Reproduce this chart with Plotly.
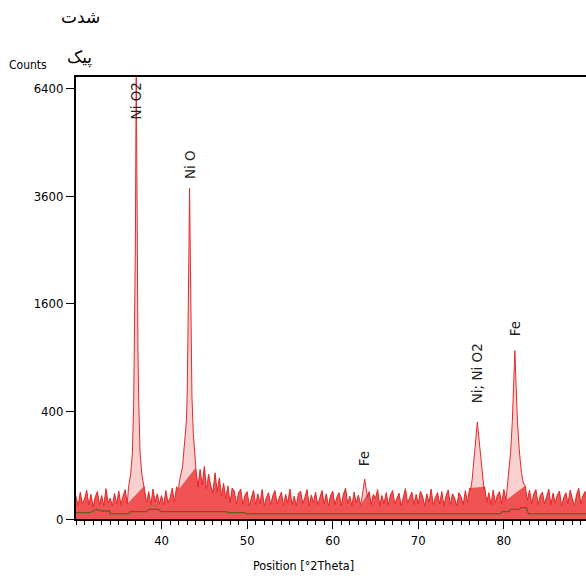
import numpy as np
import plotly.graph_objects as go

# ---- data (counts) ----
noise_start = 30.0
noise_step = 0.25
noise_counts = [
    18, 6, 25, 8, 14, 29, 7, 21, 5, 17, 26, 7, 19, 6, 32, 9, 15, 6, 23, 8,             # 30-35
    27, 7, 18, 30, 8, 20, 30, 40, 50, 40, 30, 20, 38, 9, 26, 7, 31, 10, 22, 8,           # 35-40
    19, 7, 28, 9, 16, 33, 10, 36, 30, 60, 200, 900, 3000, 900, 300, 180, 92, 35, 85, 40, # 40-45
    96, 30, 70, 38, 24, 74, 26, 58, 18, 44, 14, 38, 9, 33, 27, 8, 24, 31, 7, 20,         # 45-50
    26, 6, 17, 29, 7, 22, 8, 30, 6, 16, 24, 7, 19, 28, 8, 14, 25, 6, 21, 9,              # 50-55
    31, 7, 18, 6, 23, 27, 8, 16, 30, 6, 20, 9, 25, 7, 15, 28, 8, 22, 6, 19,              # 55-60
    27, 7, 17, 24, 6, 21, 33, 8, 18, 6, 25, 9, 20, 7, 30, 50, 30, 26, 7, 21,             # 60-65
    15, 30, 6, 19, 8, 24, 7, 20, 28, 8, 16, 23, 6, 19, 32, 9, 17, 25, 7, 21,             # 65-70
    8, 27, 18, 6, 22, 9, 31, 7, 16, 24, 8, 26, 6, 19, 29, 7, 22, 15, 6, 24,              # 70-75
    17, 7, 28, 9, 33, 60, 150, 300, 250, 100, 45, 36, 10, 24, 7, 29, 9, 20, 26, 8,       # 75-80
    30, 12, 60, 180, 500, 900, 500, 200, 90, 55, 38, 12, 29, 8, 22, 30, 7, 19, 25, 8,    # 80-85
    18, 31, 7, 23, 9, 20, 27, 6, 16, 24, 8, 29, 15, 6, 21, 33, 8, 19, 26, 10,            # 85-90
]

peak_NiO2_x = [36.14, 36.39, 36.59, 36.74, 36.84, 36.94, 37.04, 37.14, 37.24, 37.34, 37.49, 37.69, 37.94]
peak_NiO2_c = [35, 70, 150, 450, 1000, 2600, 7200, 2600, 1000, 450, 150, 70, 35]

peak_NiO_x = [42.05, 42.45, 42.7, 42.9, 43.0, 43.1, 43.19, 43.27, 43.35, 43.44, 43.55, 43.7, 43.87]
peak_NiO_c = [45, 95, 200, 330, 560, 1150, 2400, 3780, 2400, 1150, 520, 260, 150]

peak_Fe1_x = [63.4, 63.55, 63.65, 63.74, 63.83, 63.93, 64.08]
peak_Fe1_c = [14, 26, 40, 55, 40, 26, 16]

peak_Ni_x = [76.12, 76.3, 76.5, 76.67, 76.78, 76.9, 77.02, 77.13, 77.3, 77.5, 77.68]
peak_Ni_c = [30, 55, 125, 200, 260, 325, 260, 200, 130, 60, 30]

peak_Fe2_x = [80.47, 80.65, 80.8, 80.99, 81.09, 81.19, 81.29, 81.39, 81.49, 81.59, 81.8, 82.05, 82.28]
peak_Fe2_c = [52, 90, 160, 330, 480, 700, 980, 700, 480, 330, 165, 75, 45]

bg_x = [30, 31.6, 32.0, 32.4, 33.0, 33.9, 34.0, 36.2, 36.3, 38.2, 38.5, 39.6, 40.0, 47.6, 47.8,
        49.7, 49.9, 79.6, 79.8, 80.6, 80.8, 81.8, 82.0, 82.6, 82.9, 89.6]
bg_c = [1.4, 1.4, 2.2, 3.2, 2.2, 2.2, 0.9, 0.9, 1.85, 1.85, 3.2, 3.2, 1.85, 1.85, 1.4,
        1.4, 0.9, 0.9, 1.85, 1.85, 3.2, 3.2, 4.5, 4.5, 0.9, 0.9]

peak_labels = ["Ni O2", "Ni O", "Fe", "Ni; Ni O2", "Fe"]
peak_label_x = [37.04, 43.27, 63.74, 76.9, 81.29]
peak_label_y = [5460, 3950, 90, 450, 1135]

y_tick_counts = [0, 400, 1600, 3600, 6400]
y_tick_text = ["0", "400", "1600", "3600", "6400"]
x_ticks = [40, 50, 60, 70, 80]

# ---- assemble observed pattern ----
peaks = [(peak_NiO2_x, peak_NiO2_c), (peak_NiO_x, peak_NiO_c), (peak_Fe1_x, peak_Fe1_c),
         (peak_Ni_x, peak_Ni_c), (peak_Fe2_x, peak_Fe2_c)]
noise_x = [noise_start + i * noise_step for i in range(len(noise_counts))]

def in_peak(x):
    return any(px[0] <= x <= px[-1] for px, _ in peaks)

pts = [(x, c) for x, c in zip(noise_x, noise_counts) if not in_peak(x)]
for px, pc in peaks:
    pts += list(zip(px, pc))
pts.sort()
obs_x = [p[0] for p in pts]
obs_y = [float(np.sqrt(p[1])) for p in pts]

band_x = []
band_y = []
for x, c in zip(noise_x, noise_counts):
    band_x.append(x)
    band_y.append(None if in_peak(x) else float(np.sqrt(c)))

fig = go.Figure()
fig.add_trace(go.Scatter(x=band_x, y=band_y, mode="lines", line=dict(width=0, color="rgb(240,60,60)"),
                         fill="tozeroy", fillcolor="rgb(241,64,64)", hoverinfo="skip", showlegend=False))
fig.add_trace(go.Scatter(x=obs_x, y=obs_y, mode="lines", line=dict(width=1, color="rgb(232,40,40)"),
                         fill="tozeroy", fillcolor="rgba(235,120,120,0.35)", showlegend=False))
fig.add_trace(go.Scatter(x=bg_x, y=np.sqrt(bg_c), mode="lines", line=dict(width=1.3, color="#6e5a22"),
                         showlegend=False))

for t, x, y in zip(peak_labels, peak_label_x, peak_label_y):
    fig.add_annotation(x=x, y=float(np.sqrt(y)), text=t, textangle=-90, showarrow=False,
                       xanchor="center", yanchor="bottom",
                       font=dict(family="DejaVu Sans, sans-serif", size=13.5, color="#222"))

narrow = "Liberation Sans Narrow, DejaVu Sans Condensed, Arial Narrow, sans-serif"
fig.add_annotation(xref="paper", yref="paper", x=0.0098, y=1.1357, text="شدت", showarrow=False,
                   xanchor="center", yanchor="middle", font=dict(family="DejaVu Sans", size=17, color="black"))
fig.add_annotation(xref="paper", yref="paper", x=0.0078, y=1.045, text="پیک", showarrow=False,
                   xanchor="center", yanchor="middle", font=dict(family="DejaVu Sans", size=17, color="black"))
fig.add_annotation(xref="paper", yref="paper", x=-0.094, y=1.027, text="Counts", showarrow=False,
                   xanchor="center", yanchor="middle", font=dict(family=narrow, size=12, color="black"))
fig.add_annotation(xref="paper", yref="paper", x=0.447, y=-0.106, text="Position [°2Theta]", showarrow=False,
                   xanchor="center", yanchor="middle", font=dict(family=narrow, size=12.5, color="black"))

fig.update_layout(
    width=586, height=579,
    margin=dict(l=76, r=0, t=77, b=60),
    paper_bgcolor="white", plot_bgcolor="white",
    xaxis=dict(range=[30, 89.6], tickvals=x_ticks, ticks="outside", ticklen=8, tickwidth=1,
               tickcolor="black", showgrid=False, zeroline=False, showline=True, linecolor="black",
               linewidth=2, mirror=True,
               minor=dict(dtick=1, ticks="outside", ticklen=4, tickcolor="black", showgrid=False),
               tickfont=dict(family=narrow, size=13, color="black")),
    yaxis=dict(range=[0, 82.2], tickvals=[float(np.sqrt(v)) for v in y_tick_counts], ticktext=y_tick_text,
               ticks="outside", ticklen=8, tickcolor="black", showgrid=False, zeroline=False,
               showline=True, linecolor="black", linewidth=2,
               tickfont=dict(family=narrow, size=13, color="black")),
)

fig.write_html("out.html", config={"displayModeBar": False},
               post_script="document.body.style.margin='0px';document.body.style.overflow='hidden';")
